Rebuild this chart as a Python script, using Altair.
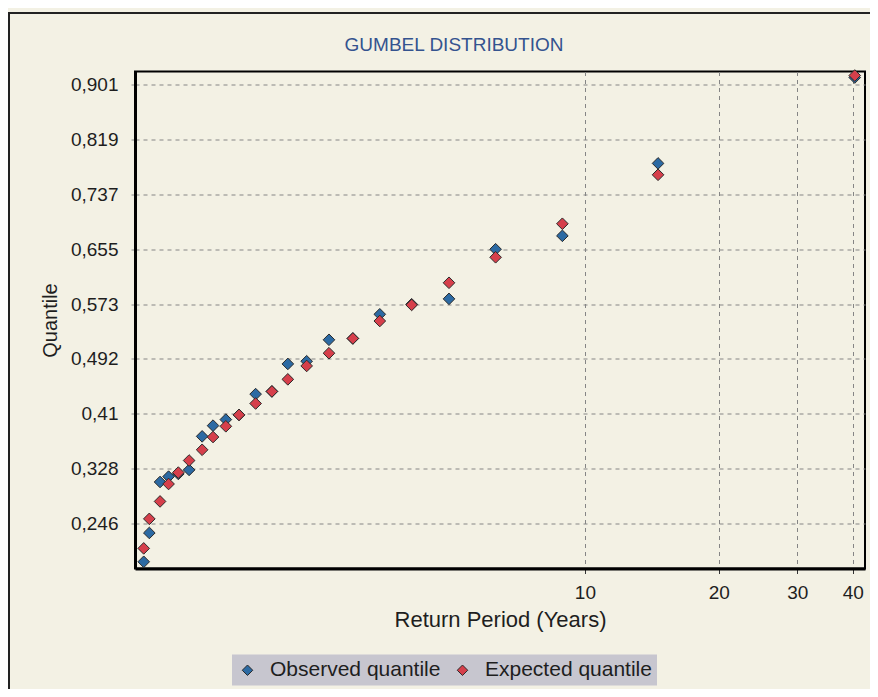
import altair as alt
import pandas as pd

# Values
return_period = [1.02, 1.05, 1.11, 1.16, 1.22, 1.29, 1.38, 1.46, 1.56, 1.67, 1.82, 1.98,
                 2.15, 2.37, 2.66, 3.01, 3.46, 4.08, 4.95, 6.30, 8.90, 14.6, 40.4]
observed = [0.189, 0.232, 0.308, 0.316, 0.320, 0.326, 0.376, 0.392, 0.401, 0.408, 0.439, 0.443,
            0.484, 0.488, 0.520, 0.522, 0.558, 0.573, 0.581, 0.655, 0.675, 0.783, 0.911]
expected = [0.209, 0.253, 0.279, 0.305, 0.322, 0.340, 0.356, 0.375, 0.391, 0.408, 0.425, 0.443,
            0.461, 0.481, 0.500, 0.522, 0.548, 0.572, 0.605, 0.643, 0.693, 0.766, 0.914]
series = ["Observed quantile", "Expected quantile"]
series_colors = ["#2c6aa3", "#d63f4b"]
x_ticks = [10, 20, 30, 40]
y_ticks = [0.246, 0.328, 0.41, 0.492, 0.573, 0.655, 0.737, 0.819, 0.901]

rows = []
for t, v in zip(return_period, observed):
    rows.append({"T": t, "Q": v, "Series": series[0]})
for t, v in zip(return_period, expected):
    rows.append({"T": t, "Q": v, "Series": series[1]})
df = pd.DataFrame(rows)

FONT = "Liberation Sans"
TXT = "#1e1e1e"

points = alt.Chart(df).mark_point(
    shape="diamond", filled=True, size=135, stroke="#2b2b2b", strokeWidth=1, opacity=1
).encode(
    x=alt.X("T:Q", title="Return Period (Years)",
            scale=alt.Scale(type="log", domain=[0.975, 42.6], nice=False),
            axis=alt.Axis(values=x_ticks, format="d", labelFontSize=19, tickSize=5,
                          labelPadding=10, tickColor="#333333", titleFontSize=22,
                          titlePadding=7, labelFlush=False, labelOverlap=False)),
    y=alt.Y("Q:Q", title="Quantile",
            scale=alt.Scale(domain=[0.179, 0.920], nice=False, zero=False),
            axis=alt.Axis(values=y_ticks,
                          labelExpr="replace(format(datum.value, '.3~f'), '.', ',')",
                          labelFontSize=19, tickSize=7, tickColor="#8c8c8c",
                          tickDash=[4, 3], labelPadding=10, titleFontSize=20,
                          titlePadding=10, labelOverlap=False)),
    color=alt.Color("Series:N", scale=alt.Scale(domain=series, range=series_colors),
                    legend=alt.Legend(title=None, orient="none", legendX=97, legendY=583,
                                      direction="horizontal", fillColor="#c7c6cf",
                                      padding=5, labelFontSize=21, labelFont=FONT,
                                      labelColor=TXT, symbolType="diamond", symbolSize=110,
                                      symbolStrokeColor="#2b2b2b", symbolStrokeWidth=1,
                                      labelOffset=12, columnPadding=11, labelLimit=400)),
)

frame = alt.Chart(alt.Data(values=[{}])).mark_rule(color="#222222", strokeWidth=2).encode(
    x=alt.value(-127), x2=alt.value(735), y=alt.value(-58.5)
)
frame_left = alt.Chart(alt.Data(values=[{}])).mark_rule(color="#222222", strokeWidth=2).encode(
    x=alt.value(-126), y=alt.value(-58.5), y2=alt.value(620)
)

chart = alt.layer(frame, frame_left, points).properties(
    width=730, height=497,
    autosize=alt.AutoSizeParams(type="none"),
    padding={"left": 127, "top": 63.5, "right": 5, "bottom": 120},
    background="#f3f1e4",
    title=alt.TitleParams("GUMBEL DISTRIBUTION", font=FONT, fontSize=19, fontWeight="normal",
                          color="#34538f", anchor="middle", dx=-46, offset=-42.5),
).configure_view(
    stroke="black", strokeWidth=2
).configure_axis(
    labelFont=FONT, titleFont=FONT, labelColor=TXT, titleColor=TXT,
    titleFontWeight="normal", gridColor="#858585", gridDash=[4, 4], gridWidth=1,
    domainColor="black", domainWidth=3
)

chart.save("out.html", embed_options={"renderer": "svg", "actions": False})
